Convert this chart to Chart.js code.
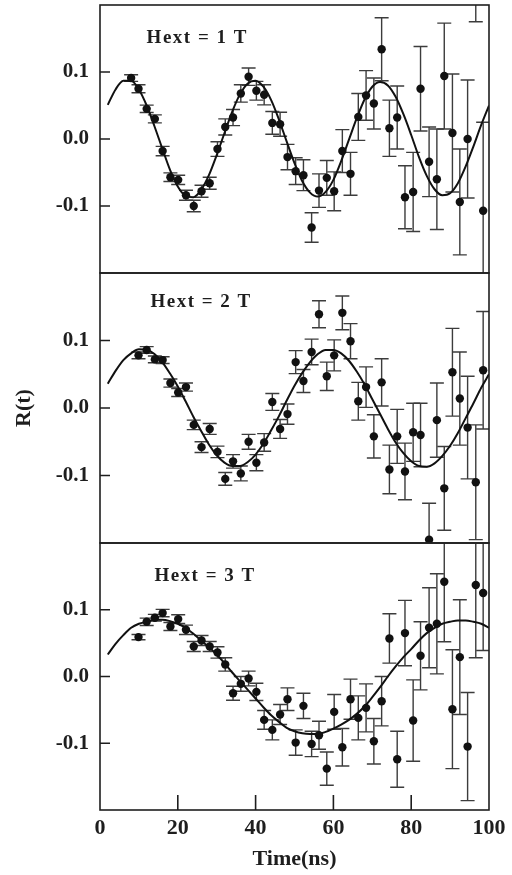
<!DOCTYPE html>
<html>
<head>
<meta charset="utf-8">
<script src="https://cdn.jsdelivr.net/npm/chart.js@4.4.0/dist/chart.umd.min.js"></script>
<style>
  body { margin: 0; background: #fff; }
  #wrap { position: relative; width: 512px; height: 875px; }
  .panel { position: absolute; left: 0; width: 512px; }
</style>
</head>
<body>
<div id="wrap">
  <div class="panel" style="top:0px; height:278px"><canvas id="p1"></canvas></div>
  <div class="panel" style="top:268px; height:280px"><canvas id="p2"></canvas></div>
  <div class="panel" style="top:538px; height:337px"><canvas id="p3"></canvas></div>
</div>
<script>
const times = [8.0, 9.9, 12.0, 14.1, 16.1, 18.1, 20.1, 22.1, 24.1, 26.1, 28.2, 30.2, 32.2, 34.2, 36.2, 38.2,
  40.2, 42.2, 44.3, 46.3, 48.2, 50.3, 52.3, 54.4, 56.3, 58.3, 60.2, 62.3, 64.4, 66.4, 68.4, 70.4,
  72.4, 74.4, 76.4, 78.4, 80.5, 82.4, 84.6, 86.6, 88.5, 90.6, 92.5, 94.5, 96.6, 98.5];

// Hext = 1 T
const r1 = [0.091, 0.075, 0.045, 0.030, -0.018, -0.057, -0.061, -0.084, -0.100, -0.078, -0.066, -0.015, 0.018, 0.032, 0.068, 0.093,
  0.072, 0.066, 0.024, 0.022, -0.027, -0.048, -0.054, -0.132, -0.077, -0.058, -0.078, -0.018, -0.052, 0.033, 0.065, 0.053,
  0.134, 0.016, 0.032, -0.087, -0.079, 0.075, -0.034, -0.060, 0.094, 0.009, -0.094, 0.000, 0.260, -0.107];
const e1 = [0.005, 0.006, 0.0055, 0.006, 0.007, 0.0065, 0.007, 0.0075, 0.0085, 0.009, 0.009, 0.011, 0.012, 0.012, 0.013, 0.013,
  0.014, 0.015, 0.017, 0.018, 0.019, 0.020, 0.023, 0.022, 0.025, 0.026, 0.029, 0.032, 0.032, 0.035, 0.037, 0.038,
  0.047, 0.042, 0.047, 0.047, 0.059, 0.063, 0.052, 0.075, 0.079, 0.088, 0.079, 0.088, 0.085, 0.132];

// Hext = 2 T (starts at 9.9 ns)
const r2 = [0.078, 0.086, 0.072, 0.071, 0.037, 0.023, 0.031, -0.025, -0.058, -0.031, -0.065, -0.105, -0.079, -0.097, -0.050,
  -0.081, -0.051, 0.009, -0.031, -0.009, 0.068, 0.040, 0.083, 0.139, 0.047, 0.078, 0.141, 0.099, 0.010, 0.031, -0.042,
  0.038, -0.091, -0.042, -0.094, -0.036, -0.040, -0.195, -0.018, -0.119, 0.053, 0.014, -0.029, -0.110, 0.056];
const e2 = [0.005, 0.005, 0.005, 0.005, 0.006, 0.006, 0.006, 0.007, 0.008, 0.008, 0.0085, 0.0095, 0.010, 0.011, 0.011,
  0.012, 0.013, 0.0125, 0.014, 0.015, 0.017, 0.017, 0.019, 0.020, 0.021, 0.023, 0.025, 0.026, 0.028, 0.030, 0.032,
  0.035, 0.036, 0.040, 0.042, 0.043, 0.047, 0.054, 0.055, 0.062, 0.065, 0.069, 0.076, 0.085, 0.087];

// Hext = 3 T (starts at 9.9 ns)
const r3 = [0.059, 0.082, 0.088, 0.095, 0.075, 0.086, 0.070, 0.045, 0.054, 0.045, 0.036, 0.018, -0.025, -0.011, -0.003,
  -0.023, -0.065, -0.080, -0.057, -0.034, -0.099, -0.044, -0.101, -0.088, -0.138, -0.053, -0.106, -0.034, -0.062, -0.047,
  -0.097, -0.037, 0.057, -0.124, 0.065, -0.066, 0.031, 0.073, 0.079, 0.142, -0.049, 0.029, -0.105, 0.137, 0.125];
const e3 = [0.004, 0.0055, 0.005, 0.0055, 0.006, 0.0065, 0.007, 0.0075, 0.0075, 0.0075, 0.0085, 0.010, 0.0105, 0.011, 0.011,
  0.013, 0.014, 0.015, 0.015, 0.017, 0.019, 0.019, 0.019, 0.021, 0.025, 0.026, 0.028, 0.030, 0.033, 0.036,
  0.034, 0.037, 0.037, 0.042, 0.049, 0.061, 0.051, 0.060, 0.075, 0.090, 0.089, 0.086, 0.081, 0.109, 0.086];

// fitted curves, read every 2 ns
const fitT = [2, 4, 6, 8, 10, 12, 14, 16, 18, 20, 22, 24, 26, 28, 30, 32, 34, 36, 38, 40, 42, 44, 46, 48, 50,
  52, 54, 56, 58, 60, 62, 64, 66, 68, 70, 72, 74, 76, 78, 80, 82, 84, 86, 88, 90, 92, 94, 96, 98, 100];
const fit1 = [0.051, 0.074, 0.087, 0.087, 0.074, 0.050, 0.019, -0.014, -0.046, -0.071, -0.085, -0.087, -0.076, -0.054, -0.024,
  0.009, 0.041, 0.067, 0.083, 0.087, 0.078, 0.058, 0.029, -0.004, -0.036, -0.063, -0.080, -0.086, -0.079, -0.061,
  -0.033, -0.001, 0.031, 0.059, 0.078, 0.085, 0.080, 0.063, 0.037, 0.006, -0.027, -0.055, -0.075, -0.084, -0.081,
  -0.066, -0.041, -0.011, 0.021, 0.050];
const fit2 = [0.036, 0.055, 0.071, 0.081, 0.087, 0.086, 0.080, 0.068, 0.051, 0.032, 0.010, -0.013, -0.034, -0.054, -0.070,
  -0.081, -0.086, -0.086, -0.080, -0.069, -0.053, -0.033, -0.012, 0.011, 0.033, 0.052, 0.068, 0.080, 0.086, 0.086,
  0.081, 0.070, 0.054, 0.035, 0.013, -0.009, -0.031, -0.051, -0.067, -0.079, -0.086, -0.087, -0.082, -0.071, -0.056,
  -0.037, -0.015, 0.007, 0.030, 0.050];
const fit3 = [0.033, 0.049, 0.062, 0.073, 0.079, 0.082, 0.085, 0.085, 0.083, 0.079, 0.073, 0.064, 0.054, 0.044, 0.033,
  0.020, 0.006, -0.007, -0.020, -0.033, -0.046, -0.058, -0.068, -0.077, -0.082, -0.085, -0.086, -0.086, -0.083, -0.078,
  -0.072, -0.065, -0.056, -0.045, -0.031, -0.016, 0.000, 0.015, 0.029, 0.041, 0.054, 0.065, 0.073, 0.079, 0.082,
  0.084, 0.084, 0.082, 0.079, 0.073];

const yTicks = [-0.1, 0.0, 0.1];
const xTicks = [0, 20, 40, 60, 80, 100];

const serif = 'Liberation Serif';
const ink = '#1e1e1e';

// error bars under the points, then frame, inward ticks and the field label
const panelDecor = {
  id: 'panelDecor',
  beforeDatasetsDraw(chart) {
    const { ctx, chartArea: a, scales: { x, y } } = chart;
    const ds = chart.data.datasets[0];
    ctx.save();
    ctx.beginPath();
    ctx.rect(a.left, a.top, a.width, a.height);
    ctx.clip();
    ctx.strokeStyle = '#3c3c3c';
    ctx.lineWidth = 1.4;
    ds.data.forEach((p, i) => {
      const e = ds.errs[i];
      const px = x.getPixelForValue(p.x);
      const top = y.getPixelForValue(p.y + e);
      const bot = y.getPixelForValue(p.y - e);
      ctx.beginPath();
      ctx.moveTo(px, top); ctx.lineTo(px, bot);
      ctx.moveTo(px - 7, top); ctx.lineTo(px + 7, top);
      ctx.moveTo(px - 7, bot); ctx.lineTo(px + 7, bot);
      ctx.stroke();
    });
    ctx.restore();
  },
  afterDraw(chart, args, opts) {
    const { ctx, chartArea: a, scales: { x, y } } = chart;
    ctx.save();
    ctx.strokeStyle = ink;
    ctx.lineWidth = 1.6;
    ctx.strokeRect(a.left, a.top, a.width, a.height);
    ctx.beginPath();
    yTicks.forEach(v => {
      const py = y.getPixelForValue(v);
      ctx.moveTo(a.left, py); ctx.lineTo(a.left + 10, py);
    });
    if (opts.xTicks) {
      xTicks.slice(1, -1).forEach(v => {
        const px = x.getPixelForValue(v);
        ctx.moveTo(px, a.bottom); ctx.lineTo(px, a.bottom - 15);
      });
    }
    ctx.stroke();
    ctx.fillStyle = ink;
    ctx.font = 'bold 19px "' + serif + '"';
    ctx.letterSpacing = '1.5px';
    ctx.textAlign = 'center';
    ctx.textBaseline = 'middle';
    ctx.fillText(opts.label, x.getPixelForValue(opts.lx), y.getPixelForValue(opts.ly));
    ctx.restore();
  }
};

function makePanel(id, label, lx, ly, tt, rr, ee, fit, opts) {
  const pts = tt.map((t, i) => ({ x: t, y: rr[i] }));
  const curve = fitT.map((t, i) => ({ x: t, y: fit[i] }));
  const bottom = !!opts.bottom;
  new Chart(document.getElementById(id), {
    type: 'scatter',
    data: {
      datasets: [
        { data: pts, errs: ee, pointRadius: 4.2, pointBackgroundColor: '#111', pointBorderWidth: 0, showLine: false },
        { data: curve, showLine: true, borderColor: '#111', borderWidth: 2, pointRadius: 0,
          tension: 0.4, cubicInterpolationMode: 'monotone' }
      ]
    },
    options: {
      responsive: true,
      maintainAspectRatio: false,
      animation: false,
      devicePixelRatio: 1,
      layout: { padding: { top: 5, bottom: bottom ? 0 : 5, left: 0, right: 23 } },
      plugins: {
        legend: { display: false },
        tooltip: { enabled: false },
        panelDecor: { label: label, lx: lx, ly: ly, xTicks: bottom }
      },
      scales: {
        x: {
          type: 'linear', min: 0, max: 100,
          display: bottom,
          afterBuildTicks: a => { a.ticks = xTicks.map(v => ({ value: v })); },
          afterFit: a => {
            a.height = bottom ? 65 : 0;
            a.paddingLeft = 0; a.paddingRight = 0;
          },
          grid: { display: false, drawTicks: false },
          border: { display: false },
          ticks: { padding: 5, color: ink, font: { family: serif, size: 22, weight: 'bold' } },
          title: { display: true, text: 'Time(ns)', color: ink, padding: { top: 0, bottom: 2 },
            font: { family: serif, size: 22, weight: 'bold' } }
        },
        y: {
          min: -0.2, max: 0.2,
          afterBuildTicks: a => { a.ticks = yTicks.map(v => ({ value: v })); },
          afterFit: a => {
            a.width = 100;
            a.paddingTop = 0; a.paddingBottom = 0;
          },
          grid: { display: false, drawTicks: false },
          border: { display: false },
          ticks: { padding: 11, color: ink, font: { family: serif, size: 21, weight: 'bold' },
            callback: v => v.toFixed(1) },
          title: { display: !!opts.yTitle, text: 'R(t)', color: ink, padding: { top: 11, bottom: 0 },
            font: { family: serif, size: 22, weight: 'bold' } }
        }
      }
    },
    plugins: [panelDecor]
  });
}

makePanel('p1', 'Hext = 1 T', 25, 0.150, times, r1, e1, fit1, {});
makePanel('p2', 'Hext = 2 T', 26, 0.157, times.slice(1), r2, e2, fit2, { yTitle: true });
makePanel('p3', 'Hext = 3 T', 27, 0.151, times.slice(1), r3, e3, fit3, { bottom: true });
</script>
</body>
</html>
